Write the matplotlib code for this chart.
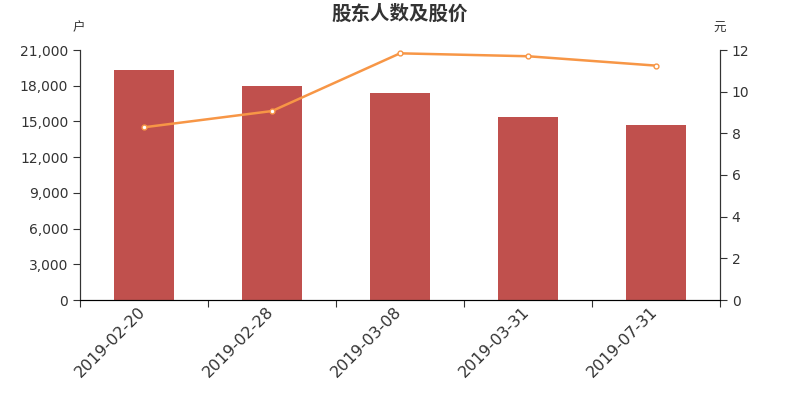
import matplotlib
matplotlib.use("Agg")
import matplotlib.pyplot as plt
from matplotlib.ticker import FuncFormatter, MultipleLocator
from matplotlib.transforms import ScaledTranslation

plt.rcParams['font.family'] = ['DejaVu Sans', 'Noto Sans CJK SC']

categories = ["2019-02-20", "2019-02-28", "2019-03-08", "2019-03-31", "2019-07-31"]
holders = [19330, 17980, 17390, 15370, 14700]
price = [8.29, 9.07, 11.84, 11.70, 11.25]

fig = plt.figure(figsize=(8, 4), dpi=100)
ax = fig.add_axes([0.1, 0.25, 0.8, 0.625])
x = list(range(len(categories)))
ax.bar(x, holders, width=0.47, color="#c0504d", zorder=2)
ax.set_xlim(-0.5, len(categories) - 0.5)
ax.set_ylim(0, 21000)
ax.yaxis.set_major_locator(MultipleLocator(3000))
ax.yaxis.set_major_formatter(FuncFormatter(lambda v, p: f"{int(v):,}"))
ax.set_xticks([i - 0.5 for i in range(len(categories) + 1)])
ax.set_xticklabels([])
ax.set_xticks(x, minor=True)
ax.set_xticklabels(categories, minor=True, rotation=45, ha='right', va='top',
                   rotation_mode='anchor', fontsize=11.5, color="#333333")
ax.tick_params(axis='x', which='minor', length=0, pad=3)
ax.tick_params(axis='x', which='major', length=5, color="#333333")
offset = ScaledTranslation(-6 / 100, 0, fig.dpi_scale_trans)
for lbl in ax.xaxis.get_minorticklabels():
    lbl.set_transform(lbl.get_transform() + offset)
ax.tick_params(axis='y', labelsize=10, colors="#333333", length=5)
for s in ['top']:
    ax.spines[s].set_visible(False)
for s in ['left', 'bottom', 'right']:
    ax.spines[s].set_color("#333333")

ax2 = ax.twinx()
ax2.plot(x, price, color="#f79646", lw=1.8, marker='o', markersize=3.5,
         markerfacecolor='white', markeredgecolor='#f79646', markeredgewidth=1, zorder=3)
ax2.set_ylim(0, 12)
ax2.yaxis.set_major_locator(MultipleLocator(2))
ax2.tick_params(axis='y', labelsize=10, colors="#333333", length=5)
ax2.spines['top'].set_visible(False)
ax2.spines['right'].set_color("#333333")
ax2.spines['left'].set_color("#333333")

fig.text(0.5, 0.965, "股东人数及股价", ha='center', va='center', fontsize=14,
         fontweight='bold', color="#333333", family=['Noto Sans CJK SC'])
fig.text(0.098, 0.93, "户", ha='center', va='center', fontsize=9, color="#333333",
         family=['Noto Sans CJK SC'])
fig.text(0.899, 0.93, "元", ha='center', va='center', fontsize=9, color="#333333",
         family=['Noto Sans CJK SC'])

fig.savefig("out.png", dpi=100)
